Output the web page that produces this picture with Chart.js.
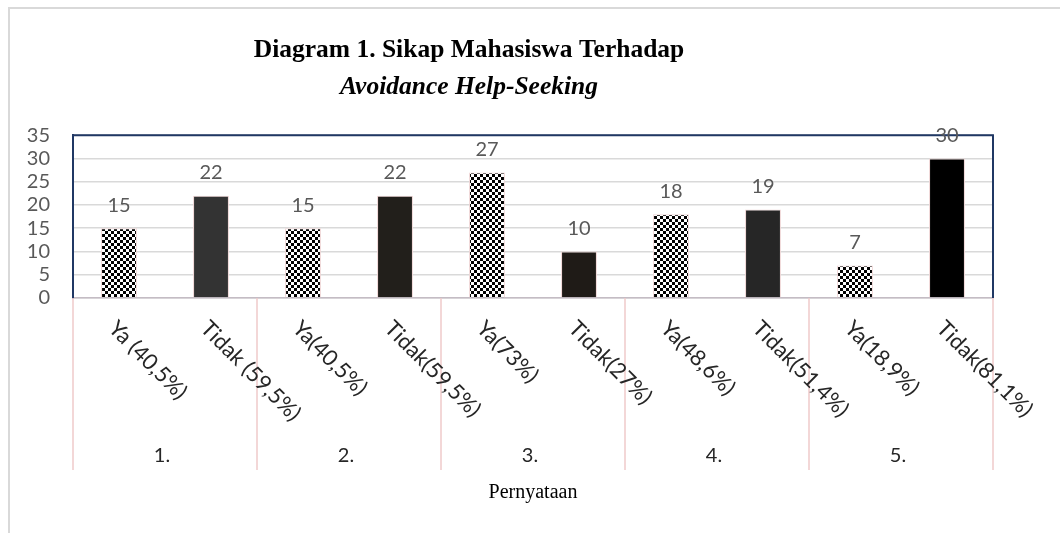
<!DOCTYPE html>
<html>
<head>
<meta charset="utf-8">
<script src="https://cdn.jsdelivr.net/npm/chart.js@4.4.1/dist/chart.umd.min.js"></script>
<style>
  html, body { margin: 0; padding: 0; background: #fff; }
  #wrap { width: 1060px; height: 533px; position: relative; }
</style>
</head>
<body>
<div id="wrap"><canvas id="sikapchart"></canvas></div>
<script>
const kategori = [
  'Ya (40,5%)', 'Tidak (59,5%)',
  'Ya(40,5%)', 'Tidak(59,5%)',
  'Ya(73%)', 'Tidak(27%)',
  'Ya(48,6%)', 'Tidak(51,4%)',
  'Ya(18,9%)', 'Tidak(81,1%)'
];
const pernyataan = ['1.', '2.', '3.', '4.', '5.'];
const jumlah = [15, 22, 15, 22, 27, 10, 18, 19, 7, 30];
const yTicks = [0, 5, 10, 15, 20, 25, 30, 35];

// fill for the "Tidak" bars, one per group
const warnaTidak = ['#333333', '#221f1b', '#1f1b17', '#262626', '#000000'];

// checkerboard fill for the "Ya" bars
const tile = document.createElement('canvas');
tile.width = 6; tile.height = 6;
const tctx = tile.getContext('2d');
tctx.fillStyle = '#fff'; tctx.fillRect(0, 0, 6, 6);
tctx.fillStyle = '#000';
tctx.fillRect(0, 0, 3, 3); tctx.fillRect(3, 3, 3, 3);
const kotak = tctx.createPattern(tile, 'repeat');

const barFill = jumlah.map((v, i) => i % 2 === 0 ? kotak : warnaTidak[Math.floor(i / 2)]);

const labelFont = '"Lato", "DejaVu Sans", sans-serif';

const extras = {
  id: 'extras',
  afterLayout(chart) {
    // the title block in the original sits a bit left of the plot centre
    chart.boxes.forEach(b => {
      if (b.position === 'top' && b.fullSize) { b.left = 0; b.right = 938; }
    });
  },
  beforeDraw(chart) {
    const ctx = chart.ctx;
    ctx.save();
    ctx.strokeStyle = '#d9d9d9';
    ctx.lineWidth = 2;
    ctx.beginPath();
    ctx.moveTo(9, chart.height);
    ctx.lineTo(9, 8);
    ctx.lineTo(chart.width, 8);
    ctx.stroke();
    ctx.restore();
  },
  afterDatasetsDraw(chart) {
    const ctx = chart.ctx;
    const area = chart.chartArea;
    const x = chart.scales.x;
    ctx.save();
    // plot frame (top + right), left comes from y border
    ctx.strokeStyle = '#203864';
    ctx.lineWidth = 2;
    ctx.beginPath();
    ctx.moveTo(area.left, area.top);
    ctx.lineTo(area.right, area.top);
    ctx.lineTo(area.right, area.bottom);
    ctx.stroke();

    // value labels
    ctx.fillStyle = '#595959';
    ctx.font = '20px ' + labelFont;
    ctx.textAlign = 'center';
    ctx.textBaseline = 'middle';
    chart.getDatasetMeta(0).data.forEach((bar, i) => {
      ctx.fillText(String(jumlah[i]), bar.x, bar.y - 23);
    });

    // group separators
    const half = (x.getPixelForValue(1) - x.getPixelForValue(0)) / 2;
    ctx.strokeStyle = '#efcaca';
    ctx.lineWidth = 1.5;
    for (let g = 0; g <= pernyataan.length; g++) {
      const px = g < pernyataan.length ? x.getPixelForValue(g * 2) - half : x.getPixelForValue(kategori.length - 1) + half;
      ctx.beginPath();
      ctx.moveTo(px, area.bottom);
      ctx.lineTo(px, area.bottom + 172);
      ctx.stroke();
    }

    // rotated category labels
    ctx.fillStyle = '#262626';
    ctx.font = '22px ' + labelFont;
    ctx.textAlign = 'left';
    ctx.textBaseline = 'top';
    kategori.forEach((lab, i) => {
      ctx.save();
      ctx.translate(x.getPixelForValue(i) + 1, area.bottom + 19);
      ctx.rotate(Math.PI / 4);
      ctx.fillText(lab, 0, 0);
      ctx.restore();
    });

    // group labels
    ctx.font = '20px ' + labelFont;
    ctx.textAlign = 'center';
    ctx.textBaseline = 'middle';
    pernyataan.forEach((g, j) => {
      const cx = (x.getPixelForValue(j * 2) + x.getPixelForValue(j * 2 + 1)) / 2;
      ctx.fillText(g, cx - 3, area.bottom + 158);
    });
    ctx.restore();
  }
};

new Chart(document.getElementById('sikapchart'), {
  type: 'bar',
  data: {
    labels: kategori,
    datasets: [{
      data: jumlah,
      backgroundColor: barFill,
      borderColor: '#f0d6d6',
      borderWidth: 1,
      barPercentage: 0.39,
      categoryPercentage: 1
    }]
  },
  options: {
    responsive: true,
    maintainAspectRatio: false,
    animation: false,
    layout: { padding: { left: 0, right: 67, top: 0, bottom: 28 } },
    plugins: {
      legend: { display: false },
      tooltip: { enabled: false },
      title: {
        display: true,
        text: 'Diagram 1. Sikap Mahasiswa Terhadap',
        color: '#000',
        font: { family: '"Liberation Serif", serif', size: 25.5, weight: 'bold', lineHeight: 1.2 },
        padding: { top: 35, bottom: 4 }
      },
      subtitle: {
        display: true,
        text: 'Avoidance Help-Seeking',
        color: '#000',
        font: { family: '"Liberation Serif", serif', size: 25.5, weight: 'bold', style: 'italic', lineHeight: 1.2 },
        padding: { top: 3, bottom: 32 }
      }
    },
    scales: {
      x: {
        grid: { display: false },
        border: { color: '#c4bcc4', width: 1.5 },
        ticks: { display: false },
        title: {
          display: true,
          text: 'Pernyataan',
          color: '#000',
          font: { family: '"Liberation Serif", serif', size: 20, lineHeight: 1.2 },
          padding: 0
        },
        afterFit: s => { s.height = 207; }
      },
      y: {
        min: 0,
        max: 35,
        afterBuildTicks: s => { s.ticks = yTicks.map(v => ({ value: v })); },
        grid: { color: '#d9d9d9', lineWidth: 1.5, drawTicks: false },
        border: { color: '#203864', width: 2 },
        ticks: {
          autoSkip: false,
          color: '#595959',
          padding: 23,
          font: { family: labelFont, size: 20 }
        },
        afterFit: s => { s.width = 73; }
      }
    }
  },
  plugins: [extras]
});
</script>
</body>
</html>
